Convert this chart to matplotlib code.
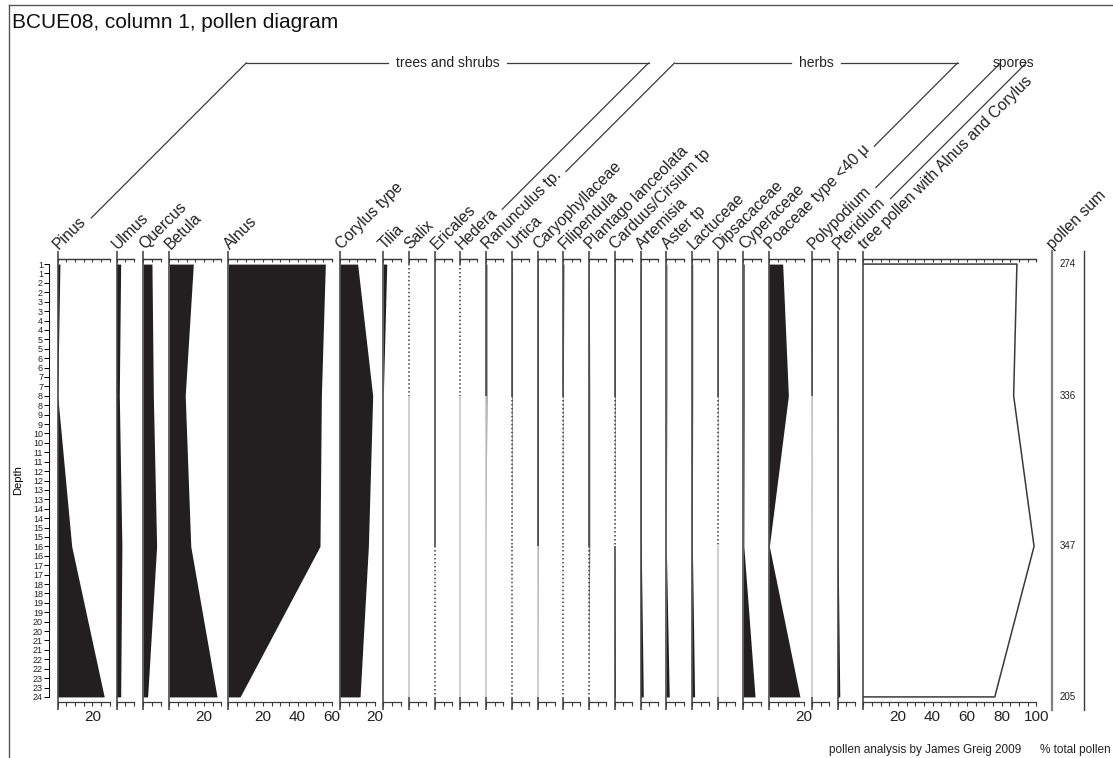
import numpy as np
import matplotlib
matplotlib.use("Agg")
import matplotlib.pyplot as plt

plt.rcParams['font.family'] = ['Liberation Sans', 'DejaVu Sans']

# sample depths and pollen counts
depths = [1, 8, 16, 24]
pollen_sum = [274, 336, 347, 205]

# percentages of total pollen per sample
pinus = [1.3, 0.0, 8.1, 26.9]
ulmus = [2.3, 1.5, 3.0, 2.3]
quercus = [5.0, 5.8, 7.7, 2.5]
betula = [13.9, 9.2, 12.4, 27.6]
alnus = [56.1, 53.8, 53.0, 6.8]
corylus = [10.2, 18.9, 16.4, 11.6]
tilia = [2.0, 0.0, 0.0, 0.0]
salix = [0.0, 0.0, 0.0, 0.0]
ericales = [0.0, 0.0, 0.0, 0.0]
hedera = [0.0, 0.0, 0.0, 0.0]
ranunculus = [0.5, 0.5, 0.0, 0.0]
urtica = [0.3, 0.3, 0.0, 0.0]
caryophyllaceae = [0.3, 0.3, 0.3, 0.0]
filipendula = [0.5, 0.2, 0.0, 0.0]
plantago = [0.2, 0.4, 0.4, 0.0]
carduus = [0.3, 0.3, 0.0, 0.4]
artemisia = [0.3, 0.3, 0.3, 1.5]
aster = [0.3, 0.3, 0.0, 1.7]
lactuceae = [0.4, 0.4, 0.2, 1.5]
dipsacaceae = [0.2, 0.2, 0.0, 0.0]
cyperaceae = [0.5, 0.5, 0.3, 6.8]
poaceae = [7.9, 11.2, 0.2, 17.9]
polypodium = [0.3, 0.2, 0.0, 0.0]
pteridium = [0.3, 0.3, 0.2, 1.2]
tree_pollen = [88.8, 86.9, 98.7, 76.0]

taxa = ["Pinus", "Ulmus", "Quercus", "Betula", "Alnus", "Corylus type", "Tilia",
        "Salix", "Ericales", "Hedera", "Ranunculus tp.", "Urtica", "Caryophyllaceae",
        "Filipendula", "Plantago lanceolata", "Carduus/Cirsium tp", "Artemisia",
        "Aster tp", "Lactuceae", "Dipsacaceae", "Cyperaceae", "Poaceae type <40 μ",
        "Polypodium", "Pteridium"]
values = [pinus, ulmus, quercus, betula, alnus, corylus, tilia, salix, ericales,
          hedera, ranunculus, urtica, caryophyllaceae, filipendula, plantago, carduus,
          artemisia, aster, lactuceae, dipsacaceae, cyperaceae, poaceae, polypodium,
          pteridium]
scale_max = [30, 10, 10, 30, 60, 20, 10, 10, 10, 10, 10, 10, 10, 10, 10, 10, 10,
             10, 10, 10, 10, 20, 10, 10]

# layout (pixels)
W, H = 1113, 758
col_left = [57.7, 116.7, 143.3, 169.3, 228.3, 340, 383.3, 409, 435, 460, 486, 512,
            537.7, 563, 589, 614.7, 640.7, 666.3, 692, 717.7, 743.3, 769, 812, 837.7]
tree_left = 863.3
# baseline style between samples: s solid, d dotted, l light
seg_style = [list("sss")] * 7 + [list("dll"), list("ssd"), list("dll"), list("sll"),
             list("sdd"), list("ssl"), list("sdd"), list("ssd"), list("sds"),
             list("sss"), list("sss"), list("sss"), list("sdl"), list("sss"),
             list("sss"), list("sll"), list("sss")]

AX_TOP, AX_BOT = 259, 702
Y_LIM = (24.27, 0.73)
LINE_TOP, LINE_BOT = 0.31, 24.69
K = 1.73  # px per percent
ink = '#231f20'
line_c = '#3a3a3a'
LABEL_FS = 11.3

fig = plt.figure(figsize=(W / 100, H / 100), dpi=100)


def fx(x):
    return x / W


def fy(y):
    return 1 - y / H


def col_axes(left, xmax):
    ax = fig.add_axes([fx(left), fy(AX_BOT), xmax * K / W, (AX_BOT - AX_TOP) / H])
    ax.set_xlim(0, xmax)
    ax.set_ylim(*Y_LIM)
    ax.patch.set_visible(False)
    for s in ('left', 'right'):
        ax.spines[s].set_visible(False)
    for s in ('top', 'bottom'):
        ax.spines[s].set_linewidth(0.9)
        ax.spines[s].set_color(line_c)
    ax.set_yticks([])
    ticks = np.arange(0, xmax + 0.1, 5)
    ax.set_xticks(ticks)
    ax.set_xticklabels([f'{t:g}' if t > 0 and t % 20 == 0 else '' for t in ticks])
    ax.tick_params(axis='x', direction='out', length=3, width=0.8, pad=2.5,
                   labelsize=11, color=line_c, labelcolor='#222222')
    top = ax.secondary_xaxis('top')
    top.set_xticks(ticks)
    top.set_xticklabels([])
    top.tick_params(direction='in', length=2.5, width=0.8, color=line_c)
    top.spines['top'].set_linewidth(0.9)
    top.spines['top'].set_color(line_c)
    return ax


def base_line(ax, styles):
    kw = dict(lw=1.1, clip_on=False, zorder=3, solid_capstyle='butt')
    ax.plot([0, 0], [LINE_TOP, depths[0]], color=line_c, **kw)
    ax.plot([0, 0], [depths[-1], LINE_BOT], color=line_c, **kw)
    for d0, d1, st in zip(depths[:-1], depths[1:], styles):
        if st == 's':
            ax.plot([0, 0], [d0, d1], color=line_c, **kw)
        elif st == 'd':
            ax.plot([0, 0], [d0, d1], color=line_c, ls=(0, (1, 1.6)), **kw)
        else:
            ax.plot([0, 0], [d0, d1], color='#c4c4c4', **kw)


for vals, xmax, left, styles in zip(values, scale_max, col_left, seg_style):
    ax = col_axes(left, xmax)
    ax.fill_betweenx(depths, 0, vals, color=ink, lw=0, zorder=2)
    base_line(ax, styles)

# tree pollen curve as an open outline
tax = col_axes(tree_left, 100)
tax.plot([0] + tree_pollen + [0], [depths[0]] + depths + [depths[-1]],
         color=line_c, lw=1.1, zorder=3)
base_line(tax, list("sss"))

# depth scale
dax = fig.add_axes([fx(49.3), fy(AX_BOT), 0.0001, (AX_BOT - AX_TOP) / H])
dax.set_ylim(*Y_LIM)
for s in ('top', 'bottom', 'right'):
    dax.spines[s].set_visible(False)
dax.spines['left'].set_bounds(1, 24)
dax.spines['left'].set_linewidth(0.7)
dax.set_xticks([])
yt = np.arange(1, 24.01, 0.5)
dax.set_yticks(yt)
dax.set_yticklabels([str(int(t)) for t in yt])
dax.tick_params(axis='y', length=3.5, width=0.7, pad=1, labelsize=6.5, labelcolor='#222222')

# pollen sum column
sax = fig.add_axes([fx(1051.7), fy(AX_BOT), (1084.3 - 1051.7) / W, (AX_BOT - AX_TOP) / H])
sax.set_xlim(0, 1)
sax.set_ylim(*Y_LIM)
sax.axis('off')
sax.plot([0, 0], [LINE_TOP, LINE_BOT], color='#808080', lw=1.6, clip_on=False)
sax.plot([1, 1], [LINE_TOP, LINE_BOT], color=line_c, lw=1.0, clip_on=False)
for d, n in zip(depths, pollen_sum):
    sax.text(0.25, d, str(n), fontsize=7, ha='left', va='center', color='#222222')

# overlay in pixel units for labels, group brackets and frame
ov = fig.add_axes([0, 0, 1, 1], zorder=10)
ov.set_xlim(0, W)
ov.set_ylim(H, 0)
ov.axis('off')
ov.patch.set_visible(False)

ov.plot([8.5, 8.5], [5, H], color='#555555', lw=1)
ov.plot([8.5, W], [5, 5], color='#555555', lw=1)
ov.text(12, 22, "BCUE08, column 1, pollen diagram", fontsize=15, va='center', color='#111111')
ov.text(18, 480, "Depth", rotation=90, fontsize=8, ha='center', va='center')
ov.text(1111, 750, "% total pollen", fontsize=8.5, ha='right', va='center', color='#222222')
ov.text(1021, 750, "pollen analysis by James Greig 2009", fontsize=8.5, ha='right',
        va='center', color='#222222')

LABEL_Y = 250
label_pos = [x + 1.5 for x in col_left] + [tree_left + 1.5, 1053.2]
label_txt = taxa + ["tree pollen with Alnus and Corylus", "pollen sum"]
for x, s in zip(label_pos, label_txt):
    ov.text(x, LABEL_Y, s, rotation=45, rotation_mode='anchor', ha='left',
            va='baseline', fontsize=LABEL_FS, color='#222222')

renderer = fig.canvas.get_renderer()


def label_end(i, gap=6):
    tt = ov.text(0, 0, label_txt[i], fontsize=LABEL_FS)
    w = tt.get_window_extent(renderer).width
    tt.remove()
    d = (w + gap) * np.sqrt(0.5)
    return label_pos[i] + d, LABEL_Y - d


GROUP_Y = 63
groups = [("trees and shrubs", 0, 9), ("herbs", 10, 21), ("spores", 22, 23)]
for name, i0, i1 in groups:
    corners = []
    for i in (i0, i1):
        sx, sy = label_end(i)
        cx = sx + (sy - GROUP_Y)
        ov.plot([sx, cx], [sy, GROUP_Y], color=line_c, lw=0.9)
        corners.append(cx)
    mid = sum(corners) / 2
    t = ov.text(mid, GROUP_Y, name, fontsize=10, ha='center', va='center', color='#222222')
    tw = t.get_window_extent(renderer).width
    if corners[0] < mid - tw / 2 - 8:
        ov.plot([corners[0], mid - tw / 2 - 8], [GROUP_Y, GROUP_Y], color=line_c, lw=0.9)
    if corners[1] > mid + tw / 2 + 8:
        ov.plot([mid + tw / 2 + 8, corners[1]], [GROUP_Y, GROUP_Y], color=line_c, lw=0.9)

fig.savefig('out.png', dpi=100)
